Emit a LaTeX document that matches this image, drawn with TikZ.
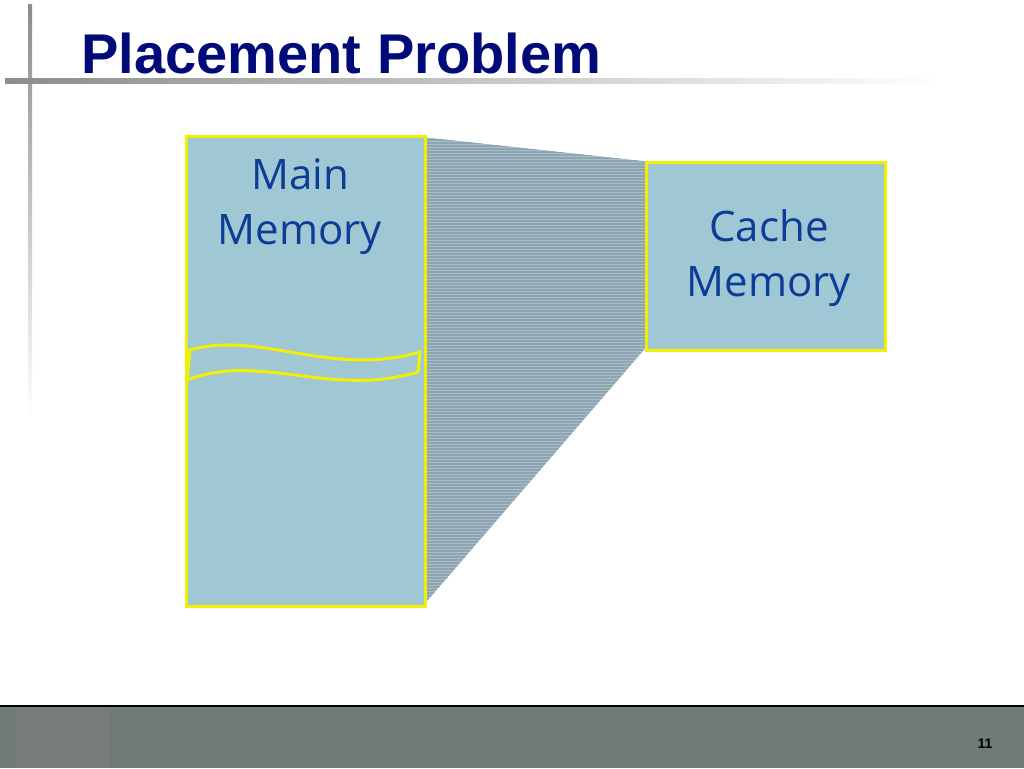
\documentclass[tikz,border=0pt]{standalone}
\usepackage{fontspec}
\setmainfont{Liberation Sans}
\newfontfamily\dvs{Open Sans}
\begin{document}
\begin{tikzpicture}[x=1pt,y=-1pt]
\definecolor{box}{HTML}{A0C8D4}
\definecolor{hatch}{HTML}{8EA6B4}
\definecolor{foot}{HTML}{6F7B74}
\definecolor{navy}{HTML}{000A78}
\definecolor{txt}{HTML}{0D3C96}
\definecolor{yel}{HTML}{F0F000}
\tikzset{mem/.style={draw=yel,line width=3pt,fill=box},
 lbl/.style={font=\dvs\fontsize{42}{55}\selectfont,text=txt,align=center}}
\useasboundingbox (0,0) rectangle (1024,768);
% decorative lines
\shade[top color=gray!90,bottom color=white] (28,5) rectangle (32,420);
\shade[left color=gray!90,right color=white] (5,78) rectangle (940,83);
\node[anchor=base west,font=\bfseries\fontsize{56}{66}\selectfont,text=navy] (title) at (78,73) {Placement Problem};
% hatched trapezoid
\fill[hatch] (424,137) -- (645,161) -- (645,349) -- (424,605) -- cycle;
\foreach \y in {138,141,...,604} \draw[white,opacity=0.25,line width=0.5pt] (424,\y) -- (645,\y);
\fill[white] (645,161) -- (645,349) -- (424,605) -- (424,610) -- (650,610) -- (650,161) -- cycle;
\fill[white] (424,130) -- (645,130) -- (645,161) -- (424,137) -- cycle;
% boxes
\node[mem,minimum width=239pt,minimum height=470pt,anchor=north west] (main) at (185,135) {};
\node[mem,minimum width=239pt,minimum height=188pt,anchor=north west] (cache) at (645,161) {};
\node[lbl] (mt) at (300,207) {Main\\Memory};
\node[lbl] (ct) at (769,258) {Cache\\Memory};
% wavy band
\filldraw[fill=box,draw=yel,line width=3pt] (190,350) .. controls (260,330) and (330,378) .. (420,352) -- (418,372) .. controls (330,398) and (260,352) .. (187,380) -- cycle;
% footer
\fill[foot] (0,706) rectangle (1024,768);
\fill[gray!55!foot] (15,708) rectangle (110,768);
\draw[black,line width=1.2pt] (0,706) -- (1024,706);
\node[font=\bfseries\fontsize{14}{16}\selectfont] (pg) at (985,744) {11};
\end{tikzpicture}
\end{document}
